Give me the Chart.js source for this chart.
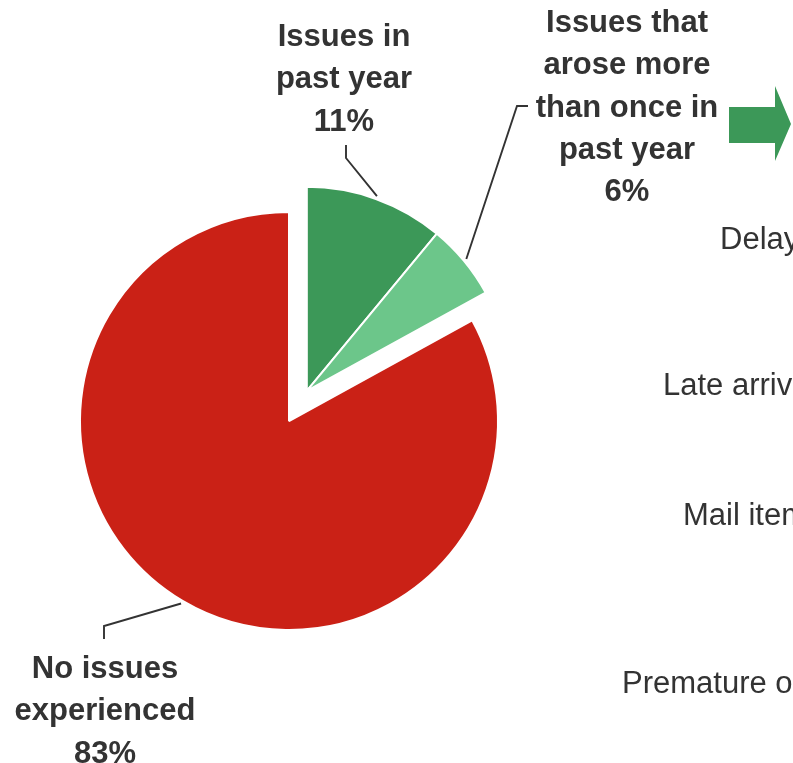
<!DOCTYPE html>
<html>
<head>
<meta charset="utf-8">
<script src="https://cdn.jsdelivr.net/npm/chart.js@4.4.0/dist/chart.umd.min.js"></script>
<style>
  html, body { margin: 0; padding: 0; background: #ffffff; overflow: hidden; }
  canvas { display: block; }
</style>
</head>
<body>
<canvas id="pie" width="793" height="763"></canvas>
<script>
// Share of respondents by mail-issue experience (percent)
const categories = ['Issues in past year', 'Issues that arose more than once in past year', 'No issues experienced'];
const labelLines = [
  ['Issues in', 'past year'],
  ['Issues that', 'arose more', 'than once in', 'past year'],
  ['No issues', 'experienced']
];
const shares = [11, 6, 83];
const sliceColors = ['#3C9858', '#6CC68A', '#CA2116'];
// slices pulled out of the pie together
const explodedGroup = [0, 1];
// issue categories listed beside the pie (running on past the right edge)
const breakdownLabels = ['Delayed', 'Late arrival', 'Mail items', 'Premature o'];

const TEXT = '#333333';
const BOLD = 'bold 31px "Liberation Sans", Arial, sans-serif';
const REGULAR = '31px "Liberation Sans", Arial, sans-serif';

// callout layout for each slice: leader elbow, leader end, text centre and first baseline
const callouts = [
  { elbow: [346, 158], end: [346, 145], cx: 344, top: 46 },
  { elbow: [517, 106], end: [528, 106], cx: 627, top: 32 },
  { elbow: [104, 626], end: [104, 639], cx: 105, top: 678 }
];
const LINE_GAP = 42.3;
const breakdownPos = [[720, 249], [663, 395], [683, 525], [622, 693]];

// move the grouped slices outward along their shared middle angle
const explodePlugin = {
  id: 'explodeGroup',
  afterDatasetsUpdate(chart) {
    const arcs = chart.getDatasetMeta(0).data;
    const first = arcs[explodedGroup[0]];
    const last = arcs[explodedGroup[explodedGroup.length - 1]];
    const mid = (first.startAngle + last.endAngle) / 2;
    const dist = 35;
    explodedGroup.forEach(i => {
      const el = arcs[i];
      el.x += Math.cos(mid) * dist;
      el.y += Math.sin(mid) * dist;
      el.outerRadius -= 5;
    });
  }
};

// leader lines, slice captions, side list and the arrow
const annotatePlugin = {
  id: 'annotate',
  afterDraw(chart) {
    const ctx = chart.ctx;
    const arcs = chart.getDatasetMeta(0).data;
    ctx.save();
    arcs.forEach((el, i) => {
      const c = callouts[i];
      const a = (el.startAngle + el.endAngle) / 2;
      const r = el.outerRadius + 3;
      ctx.beginPath();
      ctx.moveTo(el.x + Math.cos(a) * r, el.y + Math.sin(a) * r);
      ctx.lineTo(c.elbow[0], c.elbow[1]);
      ctx.lineTo(c.end[0], c.end[1]);
      ctx.strokeStyle = '#333333';
      ctx.lineWidth = 1.9;
      ctx.stroke();

      const lines = labelLines[i].concat([shares[i] + '%']);
      ctx.font = BOLD;
      ctx.fillStyle = TEXT;
      ctx.textAlign = 'center';
      ctx.textBaseline = 'alphabetic';
      lines.forEach((t, k) => ctx.fillText(t, c.cx, c.top + k * LINE_GAP));
    });

    ctx.font = REGULAR;
    ctx.textAlign = 'left';
    ctx.fillStyle = TEXT;
    breakdownLabels.forEach((t, k) => ctx.fillText(t, breakdownPos[k][0], breakdownPos[k][1]));

    ctx.beginPath();
    ctx.moveTo(729, 107);
    ctx.lineTo(775, 107);
    ctx.lineTo(775, 86);
    ctx.lineTo(791, 124);
    ctx.lineTo(775, 161);
    ctx.lineTo(775, 143);
    ctx.lineTo(729, 143);
    ctx.closePath();
    ctx.fillStyle = sliceColors[0];
    ctx.fill();
    ctx.restore();
  }
};

new Chart(document.getElementById('pie'), {
  type: 'pie',
  data: {
    labels: categories,
    datasets: [{
      data: shares,
      backgroundColor: sliceColors,
      borderColor: '#ffffff',
      borderWidth: 2
    }]
  },
  options: {
    responsive: false,
    animation: false,
    events: [],
    radius: 209,
    layout: { padding: { left: 0, right: 215, top: 79, bottom: 0 } },
    plugins: {
      legend: { display: false },
      tooltip: { enabled: false }
    }
  },
  plugins: [explodePlugin, annotatePlugin]
});
</script>
</body>
</html>
